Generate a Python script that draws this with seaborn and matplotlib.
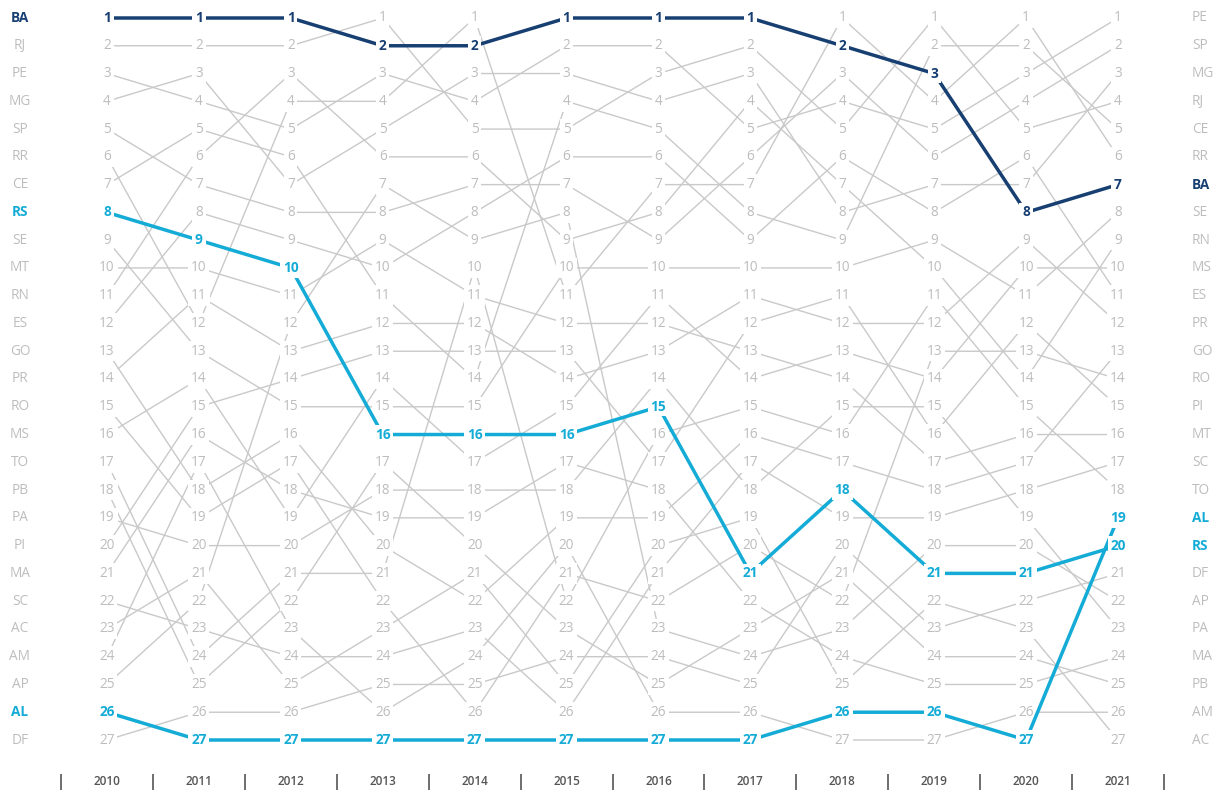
import numpy as np
import pandas as pd
import matplotlib
matplotlib.use("Agg")
import matplotlib.pyplot as plt
import seaborn as sns

# ---------------- data ----------------
years = [2010, 2011, 2012, 2013, 2014, 2015, 2016, 2017, 2018, 2019, 2020, 2021]

BA = [1, 1, 1, 2, 2, 1, 1, 1, 2, 3, 8, 7]
RJ = [2, 2, 2, 1, 5, 5, 3, 2, 5, 1, 5, 4]
PE = [3, 4, 5, 3, 4, 2, 2, 5, 4, 5, 3, 1]
MG = [4, 3, 7, 5, 3, 3, 4, 3, 8, 7, 7, 3]
SP = [5, 7, 8, 8, 7, 7, 9, 6, 3, 6, 4, 2]
RR = [6, 12, 4, 4, 1, 11, 7, 7, 1, 4, 1, 6]
CE = [7, 5, 6, 11, 14, 4, 5, 8, 9, 2, 2, 5]
RS = [8, 9, 10, 16, 16, 16, 15, 21, 18, 21, 21, 20]
SE = [9, 13, 15, 15, 15, 10, 10, 10, 10, 9, 11, 8]
MT = [10, 10, 11, 9, 11, 12, 12, 13, 14, 17, 16, 16]
RN = [11, 6, 3, 6, 6, 9, 8, 4, 7, 10, 14, 9]
ES = [12, 8, 9, 10, 8, 6, 6, 9, 6, 8, 6, 11]
GO = [13, 18, 16, 20, 22, 19, 19, 16, 17, 18, 17, 13]
PR = [14, 11, 13, 12, 12, 14, 13, 11, 12, 12, 9, 12]
RO = [15, 19, 17, 22, 26, 21, 22, 20, 22, 13, 13, 14]
MS = [16, 14, 19, 14, 17, 15, 11, 14, 13, 14, 10, 10]
TO = [17, 24, 21, 21, 10, 22, 16, 15, 16, 11, 15, 18]
PB = [18, 25, 22, 17, 20, 23, 25, 23, 21, 24, 24, 25]
PA = [19, 20, 20, 18, 18, 18, 14, 18, 15, 15, 19, 23]
PI = [20, 15, 14, 13, 13, 13, 17, 12, 11, 16, 12, 15]
MA = [21, 16, 18, 19, 19, 17, 18, 22, 24, 25, 25, 24]
SC = [22, 23, 24, 24, 23, 26, 21, 17, 19, 19, 18, 17]
AC = [23, 21, 25, 23, 21, 25, 20, 19, 25, 22, 23, 27]
AM = [24, 17, 23, 26, 24, 20, 26, 26, 27, 27, 26, 26]
AP = [25, 22, 12, 7, 9, 8, 23, 24, 23, 20, 20, 22]
AL = [26, 27, 27, 27, 27, 27, 27, 27, 26, 26, 27, 19]
DF = [27, 26, 26, 25, 25, 24, 24, 25, 20, 23, 22, 21]

states = ["BA", "RJ", "PE", "MG", "SP", "RR", "CE", "RS", "SE", "MT", "RN", "ES",
          "GO", "PR", "RO", "MS", "TO", "PB", "PA", "PI", "MA", "SC", "AC", "AM",
          "AP", "AL", "DF"]
series = [BA, RJ, PE, MG, SP, RR, CE, RS, SE, MT, RN, ES, GO, PR, RO, MS, TO, PB,
          PA, PI, MA, SC, AC, AM, AP, AL, DF]

highlight = {"BA": "#173f72", "RS": "#14acd6", "AL": "#14acd6"}
GRAY_LINE = "#c9c9c9"
GRAY_TEXT = "#bdbdbd"

rows = []
for st, vals in zip(states, series):
    for i, (y, r) in enumerate(zip(years, vals)):
        rows.append({"state": st, "year": y, "xi": i, "rank": r})
df = pd.DataFrame(rows)

# ---------------- figure ----------------
sns.set_style("white")
plt.rcParams["font.family"] = ["Open Sans", "DejaVu Sans"]

W, H = 1216, 792
fig = plt.figure(figsize=(W / 100, H / 100), dpi=100)
ax = fig.add_axes([0, 0, 1, 1])

x0_px, dx_px = 107.0, (1118.0 - 107.0) / 11
y0_px, dy_px = 18.0, (740.0 - 18.0) / 26

ax.set_xlim(-x0_px / dx_px, (W - x0_px) / dx_px)
ax.set_ylim(1 + (H - y0_px) / dy_px, 1 - y0_px / dy_px)
ax.axis("off")

# gray lines first
gray_df = df[~df["state"].isin(highlight)]
sns.lineplot(data=gray_df, x="xi", y="rank", units="state", estimator=None,
             color=GRAY_LINE, linewidth=1.0, ax=ax, legend=False, zorder=1)
# highlighted lines (drawn above the gray labels)
for st, col in highlight.items():
    sub = df[df["state"] == st]
    sns.lineplot(data=sub, x="xi", y="rank", color=col, linewidth=2.5,
                 ax=ax, legend=False, zorder=4)

# rank numbers
for st, vals in zip(states, series):
    hl = st in highlight
    col = highlight.get(st, GRAY_TEXT)
    for i, r in enumerate(vals):
        ax.text(i, r, str(r), ha="center", va="center", fontsize=9.8,
                color=col, fontweight="bold" if hl else "normal",
                zorder=5 if hl else 2,
                bbox=dict(boxstyle="square,pad=0.2", fc="white", ec="none"))

# left / right state labels
first = {st: v[0] for st, v in zip(states, series)}
last = {st: v[-1] for st, v in zip(states, series)}
xl = (20 - x0_px) / dx_px
xr = (1192 - x0_px) / dx_px
for st in states:
    hl = st in highlight
    col = highlight.get(st, GRAY_TEXT)
    fw = "bold" if hl else "normal"
    ax.text(xl, first[st], st, ha="center", va="center", fontsize=9.8,
            color=col, fontweight=fw)
    ax.text(xr, last[st], st, ha="left", va="center", fontsize=9.8,
            color=col, fontweight=fw)

# bottom year axis
y_year = 1 + (782 - y0_px) / dy_px
for i, yr in enumerate(years):
    ax.text(i, y_year, str(yr), ha="center", va="center", fontsize=8.5,
            color="#555555", fontweight="semibold")
tick_top = 1 + (774 - y0_px) / dy_px
tick_bot = 1 + (790 - y0_px) / dy_px
ax.vlines([i - 0.5 for i in range(len(years) + 1)], tick_top, tick_bot,
          color="#555555", linewidth=1.2)

fig.savefig("out.png", dpi=100, facecolor="white")
